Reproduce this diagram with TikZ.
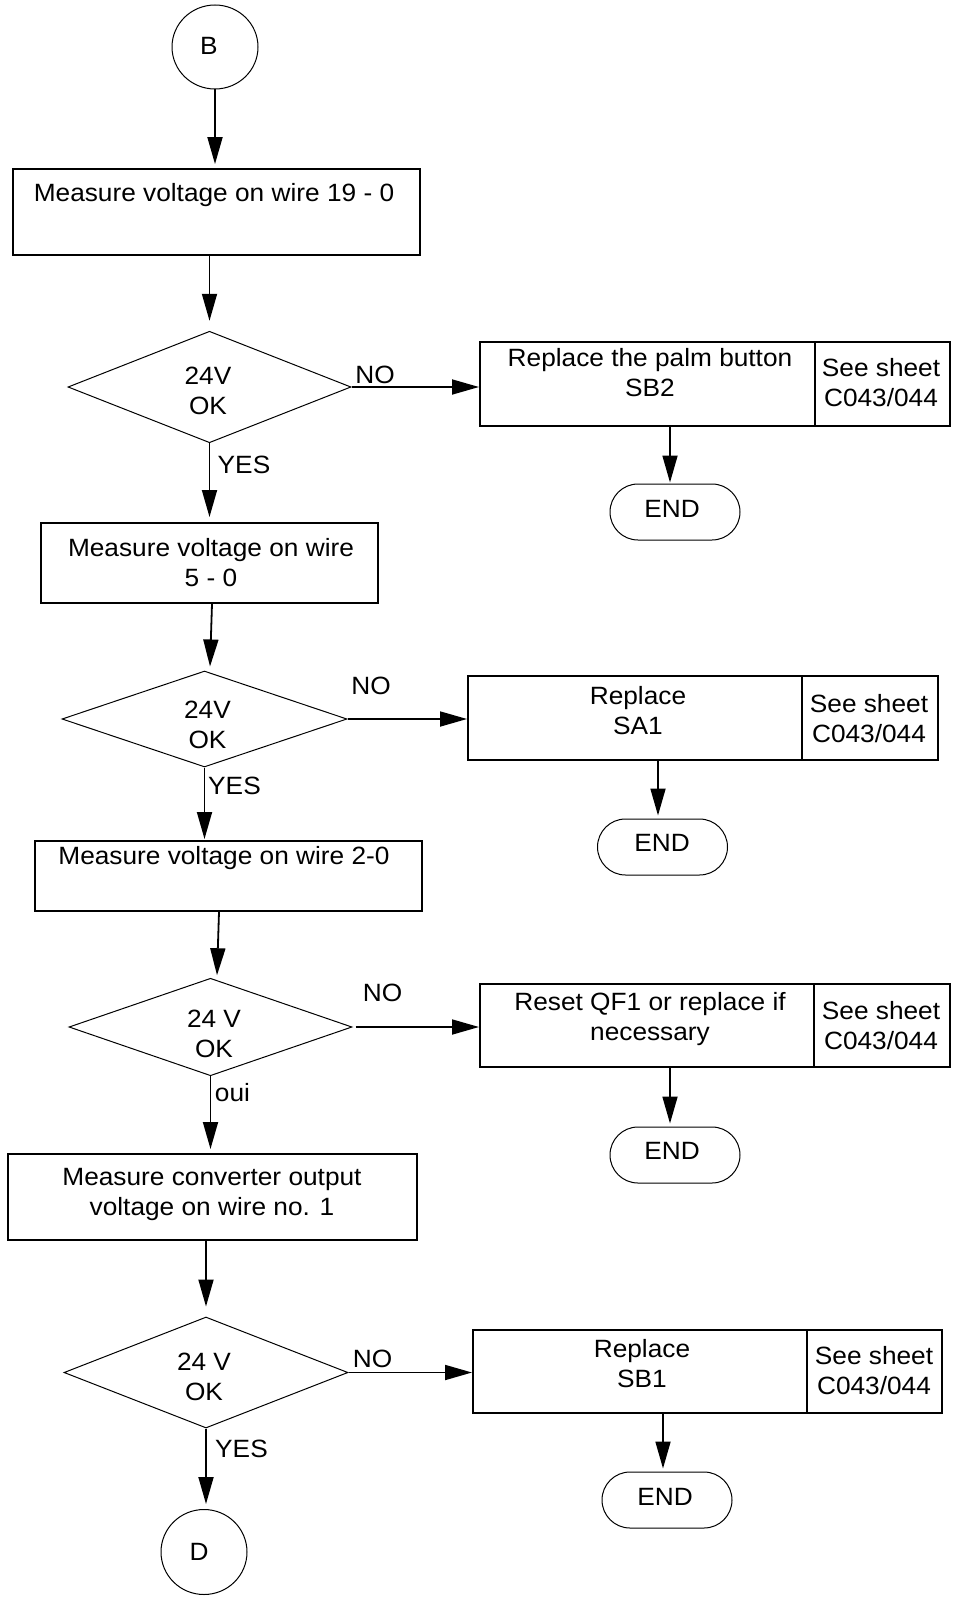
\documentclass[tikz,border=0pt]{standalone}
\usepackage{fontspec}
\setmainfont{Liberation Sans}[FakeStretch=1.05]
\usetikzlibrary{shapes.geometric,arrows.meta}
\begin{document}
\begin{tikzpicture}[x=1pt,y=-1pt,
  every node/.style={font=\fontsize{25}{30}\selectfont},
  box/.style={draw, line width=2pt, inner sep=0pt},
  dec/.style={draw, diamond, line width=1pt, inner sep=0pt, aspect=2.7},
  term/.style={draw, rounded corners=28pt, line width=1pt, minimum width=130pt, minimum height=56pt, inner sep=0pt},
  conn/.style={draw, ellipse, line width=1pt, inner sep=0pt},
  txt/.style={inner sep=0pt, align=center},
  arr/.style={line width=1.8pt, -{Triangle[length=27pt,width=15pt]}}]
\useasboundingbox (0,0) rectangle (956,1597);

% connectors circles
\node[conn, minimum width=86pt, minimum height=84pt] (B) at (215,47) {};
\node[txt] (Bt) at (209,46) {B};
\node[conn, minimum width=86pt, minimum height=85pt] (D) at (204,1552) {};
\node[txt] (Dt) at (199,1552) {D};

% main column boxes
\node[box, minimum width=407pt, minimum height=86pt] (m1) at (216.5,211.6) {};
\node[txt] (m1t) at (214,195) {Measure voltage on wire 19 - 0};
\node[box, minimum width=337pt, minimum height=80pt] (m2) at (209.5,563) {};
\node[txt] (m2t) at (211,563) {Measure voltage on wire\\5 - 0};
\node[box, minimum width=387pt, minimum height=70pt] (m3) at (228.5,876) {};
\node[txt] (m3t) at (224,858) {Measure voltage on wire 2-0};
\node[box, minimum width=409pt, minimum height=86pt] (m4) at (212.5,1197) {};
\node[txt] (m4t) at (212,1194) {Measure converter output\\voltage on wire no. 1};

% decisions
\node[dec, minimum width=283pt, minimum height=111.5pt] (d1) at (209.5,387) {};
\node[txt] (d1t) at (208,391) {24V\\OK};
\node[dec, minimum width=285pt, minimum height=96pt] (d2) at (204.5,719) {};
\node[txt] (d2t) at (207.5,725) {24V\\OK};
\node[dec, minimum width=283pt, minimum height=97.5pt] (d3) at (210.5,1027) {};
\node[txt] (d3t) at (214,1034) {24 V\\OK};
\node[dec, minimum width=284pt, minimum height=111pt] (d4) at (206,1372.5) {};
\node[txt] (d4t) at (204,1377) {24 V\\OK};

% right boxes
\node[box, minimum width=335pt, minimum height=84pt] (r1) at (647.5,384) {};
\node[box, minimum width=135pt, minimum height=84pt] (s1) at (882.5,384) {};
\node[txt] (r1t) at (650,373) {Replace the palm button\\SB2};
\node[txt] (s1t) at (881,383) {See sheet\\C043/044};

\node[box, minimum width=334pt, minimum height=84pt] (r2) at (635,718) {};
\node[box, minimum width=136pt, minimum height=84pt] (s2) at (870,718) {};
\node[txt] (r2t) at (638,711) {Replace\\SA1};
\node[txt] (s2t) at (869,719) {See sheet\\C043/044};

\node[box, minimum width=334pt, minimum height=83pt] (r3) at (647,1025.5) {};
\node[box, minimum width=136pt, minimum height=83pt] (s3) at (882,1025.5) {};
\node[txt] (r3t) at (650,1019) {Reset QF1 or replace if\\necessary};
\node[txt] (s3t) at (881,1026) {See sheet\\C043/044};

\node[box, minimum width=334pt, minimum height=83pt] (r4) at (640,1371.5) {};
\node[box, line width=1.4pt, minimum width=135pt, minimum height=83pt] (s4) at (874.5,1371.5) {};
\node[txt] (r4t) at (642,1364) {Replace\\SB1};
\node[txt] (s4t) at (874,1371) {See sheet\\C043/044};

% END terminals
\node[term] (e1) at (675,512) {};
\node[txt] (e1t) at (672,509) {END};
\node[term] (e2) at (662.5,847) {};
\node[txt] (e2t) at (662,843) {END};
\node[term] (e3) at (675,1155) {};
\node[txt] (e3t) at (672,1151) {END};
\node[term] (e4) at (667,1500) {};
\node[txt] (e4t) at (665,1497) {END};

% vertical flow
\draw[arr] (B.south) -- ([yshift=3.5pt]B.south |- m1.north);
\draw[arr] (d1.north |- m1.south) -- ([yshift=10pt]d1.north);
\draw[arr] (d1.south) -- ([yshift=5pt]d1.south |- m2.north);
\draw[arr] ([xshift=2.5pt]m2.south) -- ([xshift=5.5pt,yshift=4pt]d2.north);
\draw[arr] (d2.south) -- ([yshift=1pt]d2.south |- m3.north);
\draw[arr] ([xshift=-9.5pt]m3.south) -- ([xshift=6.5pt,yshift=2.5pt]d3.north);
\draw[arr] (d3.south) -- ([yshift=4pt]d3.south |- m4.north);
\draw[arr] (d4.north |- m4.south) -- ([yshift=10pt]d4.north);
\draw[arr] (d4.south) -- ([yshift=5pt]d4.south |- D.north);

% NO branches
\draw[arr] (d1.east) -- (d1.east -| r1.west);
\draw[arr] (d2.east) -- (d2.east -| r2.west);
\draw[arr] ([xshift=3pt]d3.east) -- (d3.east -| r3.west);
\draw[arr] (d4.east) -- (d4.east -| r4.west);

% to END
\draw[arr] ([xshift=-5pt]e1.north |- r1.south) -- ([xshift=-5pt,yshift=1pt]e1.north);
\draw[arr] ([xshift=-4.5pt]e2.north |- r2.south) -- ([xshift=-4.5pt,yshift=3pt]e2.north);
\draw[arr] ([xshift=-5pt]e3.north |- r3.south) -- ([xshift=-5pt,yshift=3pt]e3.north);
\draw[arr] ([xshift=-4pt]e4.north |- r4.south) -- ([xshift=-4pt,yshift=3pt]e4.north);

% labels
\node[txt] (no1) at (375,375) {NO};
\node[txt] (no2) at (371,686) {NO};
\node[txt] (no3) at (382.5,993) {NO};
\node[txt] (no4) at (372.5,1359) {NO};
\node[txt] (yes1) at (244,465) {YES};
\node[txt] (yes2) at (234.5,786) {YES};
\node[txt] (oui3) at (232.5,1093) {oui};
\node[txt] (yes4) at (241.5,1449) {YES};
\end{tikzpicture}
\end{document}
